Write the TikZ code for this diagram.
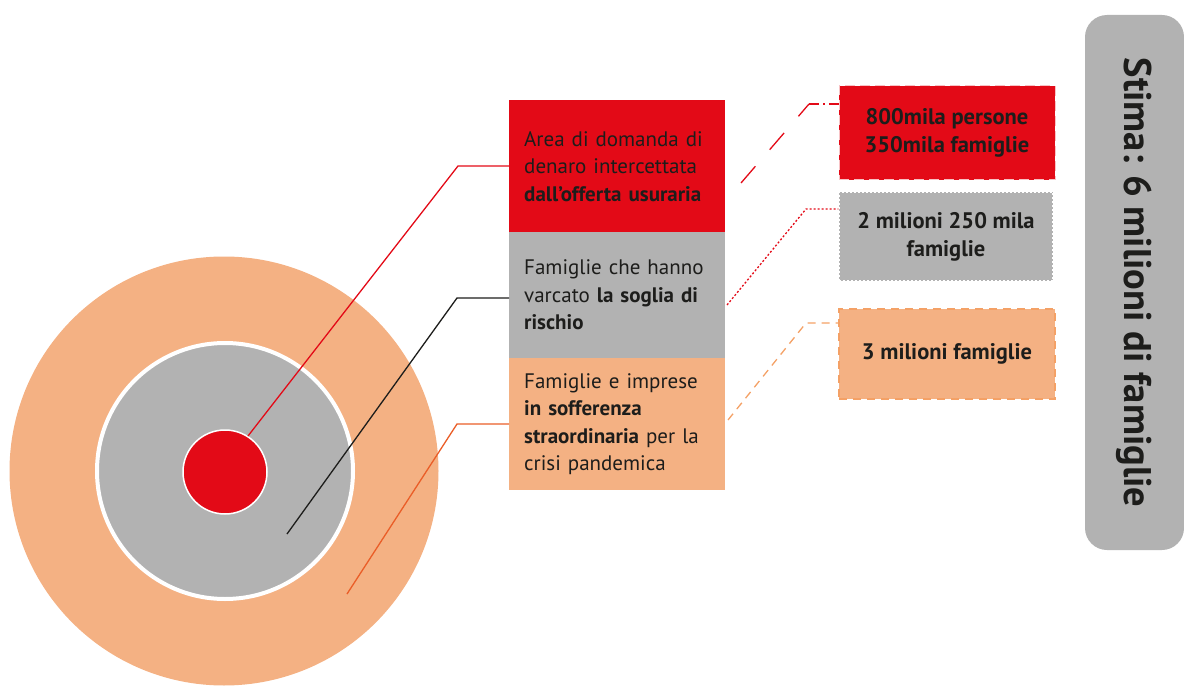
\documentclass[tikz,border=0pt]{standalone}
\usepackage{fontspec}
\setmainfont{PT Sans}
\definecolor{cred}{HTML}{E30A17}
\definecolor{cgray}{HTML}{B2B2B2}
\definecolor{corange}{HTML}{F4B183}
\definecolor{ctext}{HTML}{1D1D1B}
\definecolor{corline}{HTML}{EA5E28}
\definecolor{cordash}{HTML}{F4A166}
\begin{document}
\begin{tikzpicture}[x=1pt,y=-1pt,
  lbox/.style={rectangle, inner xsep=15pt, inner ysep=0pt, text width=186pt,
    align=left, anchor=north west, text=ctext,
    font=\fontsize{21}{27.5}\selectfont},
  rbox/.style={rectangle, inner sep=0pt, align=center, text=ctext,
    font=\bfseries\fontsize{22.5}{28}\selectfont},
  conn/.style={line width=1.3pt},
  rconn/.style={line width=1.3pt}]
\useasboundingbox (0,0) rectangle (1184,690);

% circles
\node[circle, fill=corange, minimum size=429pt, inner sep=0pt] (outer) at (224,471) {};
\node[circle, fill=cgray, draw=white, line width=4pt, minimum size=256pt, inner sep=0pt] (mid) at (225,471) {};
\node[circle, fill=cred, draw=white, line width=1.5pt, minimum size=84pt, inner sep=0pt] (core) at (225,472) {};

% left boxes
\node[lbox, fill=cred, minimum height=132pt] (rb) at (509,100)
  {Area di domanda di\\denaro intercettata\\\textbf{dall’offerta usuraria}};
\node[lbox, fill=cgray, minimum height=126pt] (gb) at (509,232)
  {Famiglie che hanno\\varcato \textbf{la soglia di}\\\textbf{rischio}};
\node[lbox, fill=corange, minimum height=132pt] (ob) at (509,358)
  {Famiglie e imprese\\\textbf{in sofferenza}\\\textbf{straordinaria} per la\\crisi pandemica};

% right boxes
\node[rbox, fill=cred, draw=white!75!cred, line width=1pt, dash pattern=on 10pt off 5pt,
  minimum width=216pt, minimum height=94pt] (rr) at (947,133)
  {800mila persone\\350mila famiglie};
\node[rbox, fill=cgray, draw=white, line width=1.5pt, dash pattern=on 2pt off 2pt,
  minimum width=214pt, minimum height=89pt] (gr) at (946,236.5)
  {2 milioni 250 mila\\famiglie};
\node[rbox, fill=corange, draw=cordash, line width=1.5pt, dash pattern=on 8pt off 6pt,
  minimum width=216pt, minimum height=90pt] (or) at (947,354)
  {3 milioni famiglie};

% summary box
\node[fill=cgray, rounded corners=22pt, rotate=-90, minimum width=535pt,
  minimum height=99pt, inner sep=0pt, text=ctext,
  font=\bfseries\fontsize{38.5}{38.5}\selectfont] (st) at (1134.5,282.5)
  {Stima: 6 milioni di famiglie};

% left connectors
\coordinate (a1) at (248,436);
\coordinate (k1) at (458,166);
\draw[conn, cred] (a1) -- (k1) -- (k1 -| rb.west);
\coordinate (a2) at (287,534);
\coordinate (k2) at (457,298);
\draw[conn, ctext] (a2) -- (k2) -- (k2 -| gb.west);
\coordinate (a3) at (347,594);
\coordinate (k3) at (457,424);
\draw[conn, corline] (a3) -- (k3) -- (k3 -| ob.west);

% right connectors
\coordinate (b1) at (741,183);
\coordinate (m1) at (809,104);
\draw[rconn, cred, dash pattern=on 22pt off 22pt] (b1) -- (m1);
\draw[rconn, cred, dash pattern=on 10pt off 4pt on 2pt off 4pt] (m1) -- (m1 -| rr.west);
\coordinate (b2) at (727,305);
\coordinate (m2) at (806,209);
\draw[rconn, cred, dash pattern=on 2pt off 2pt] (b2) -- (m2) -- (m2 -| gr.west);
\coordinate (b3) at (728,420);
\coordinate (m3) at (806,323);
\draw[rconn, cordash, dash pattern=on 8pt off 6pt] (b3) -- (m3) -- (m3 -| or.west);
\end{tikzpicture}
\end{document}
